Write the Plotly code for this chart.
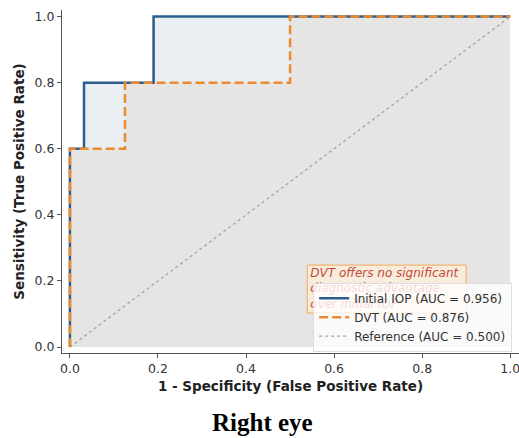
import plotly.graph_objects as go

# ROC step curves
iop_fpr = [0.0, 0.0, 0.032, 0.032, 0.19, 0.19, 1.0]
iop_tpr = [0.0, 0.6, 0.6, 0.8, 0.8, 1.0, 1.0]
dvt_fpr = [0.0, 0.0, 0.125, 0.125, 0.5, 0.5, 1.0]
dvt_tpr = [0.0, 0.6, 0.6, 0.8, 0.8, 1.0, 1.0]
ref_x = [0.0, 1.0]
ref_y = [0.0, 1.0]
labels = ["Initial IOP (AUC = 0.956)", "DVT (AUC = 0.876)", "Reference (AUC = 0.500)"]
note_lines = ["DVT offers no significant", "diagnostic advantage", "over initial IOP"]
ticks = [0.0, 0.2, 0.4, 0.6, 0.8, 1.0]
tick_text = ["0.0", "0.2", "0.4", "0.6", "0.8", "1.0"]

BLUE = "#2b5d8e"
ORANGE = "#ec8a2e"

fig = go.Figure()
fig.add_trace(go.Scatter(x=iop_fpr, y=iop_tpr, mode="lines", fill="tozeroy",
                         fillcolor="rgba(43,93,142,0.10)", line=dict(width=0),
                         showlegend=False, hoverinfo="skip"))
fig.add_trace(go.Scatter(x=dvt_fpr, y=dvt_tpr, mode="lines", fill="tozeroy",
                         fillcolor="rgba(210,160,90,0.10)", line=dict(width=0),
                         showlegend=False, hoverinfo="skip"))

# annotation box (drawn as a trace so the legend sits above it)
bx0, bx1, by0, by1 = 0.539, 0.900, 0.103, 0.248
fig.add_trace(go.Scatter(x=[bx0, bx1, bx1, bx0, bx0], y=[by0, by0, by1, by1, by0],
                         mode="lines", fill="toself", fillcolor="rgba(253,238,218,0.75)",
                         line=dict(color="#f2a955", width=1), showlegend=False, hoverinfo="skip"))
fig.add_trace(go.Scatter(x=[0.546] * 3, y=[0.222, 0.175, 0.128], mode="text",
                         text=["<i>%s</i>" % t for t in note_lines], textposition="middle right",
                         textfont=dict(family="DejaVu Sans", size=12, color="#c44a3a"),
                         showlegend=False, hoverinfo="skip"))

fig.add_trace(go.Scatter(x=ref_x, y=ref_y, mode="lines", name=labels[2], legendrank=3,
                         line=dict(color="#a0a0a0", width=1.2, dash="dot")))
fig.add_trace(go.Scatter(x=iop_fpr, y=iop_tpr, mode="lines", name=labels[0], legendrank=1,
                         line=dict(color=BLUE, width=2.5)))
fig.add_trace(go.Scatter(x=dvt_fpr, y=dvt_tpr, mode="lines", name=labels[1], legendrank=2,
                         line=dict(color=ORANGE, width=2.5, dash="9px,4px")))

axis_common = dict(showgrid=False, zeroline=False, showline=True, linecolor="#555555",
                   linewidth=1.2, ticks="outside", ticklen=4, tickcolor="#555555",
                   tickvals=ticks, ticktext=tick_text, ticklabeloverflow="allow",
                   tickfont=dict(family="DejaVu Sans", size=12.5, color="#333333"))

fig.update_layout(
    width=519, height=438,
    margin=dict(l=62, r=0, t=10, b=85),
    paper_bgcolor="white", plot_bgcolor="white",
    xaxis=dict(range=[-0.018, 1.02], title=dict(text="<b>1 - Specificity (False Positive Rate)</b>",
               font=dict(family="DejaVu Sans", size=13.5, color="#222222"), standoff=6), **axis_common),
    yaxis=dict(range=[-0.018, 1.02], title=dict(text="<b>Sensitivity (True Positive Rate)</b>",
               font=dict(family="DejaVu Sans", size=13.5, color="#222222"), standoff=6), **axis_common),
    legend=dict(x=0.985, y=0.004, xanchor="right", yanchor="bottom",
                bgcolor="rgba(255,255,255,0.8)", bordercolor="#dddddd", borderwidth=1,
                font=dict(family="DejaVu Sans", size=12, color="#333333"),
                traceorder="normal", itemwidth=30),
    showlegend=True,
    annotations=[
        dict(text="<b>Right eye</b>", xref="paper", yref="paper", x=0.438, y=-0.203,
             xanchor="center", yanchor="middle", showarrow=False,
             font=dict(family="Liberation Serif", size=25, color="black")),
    ],
)

fig.write_html("out.html")
